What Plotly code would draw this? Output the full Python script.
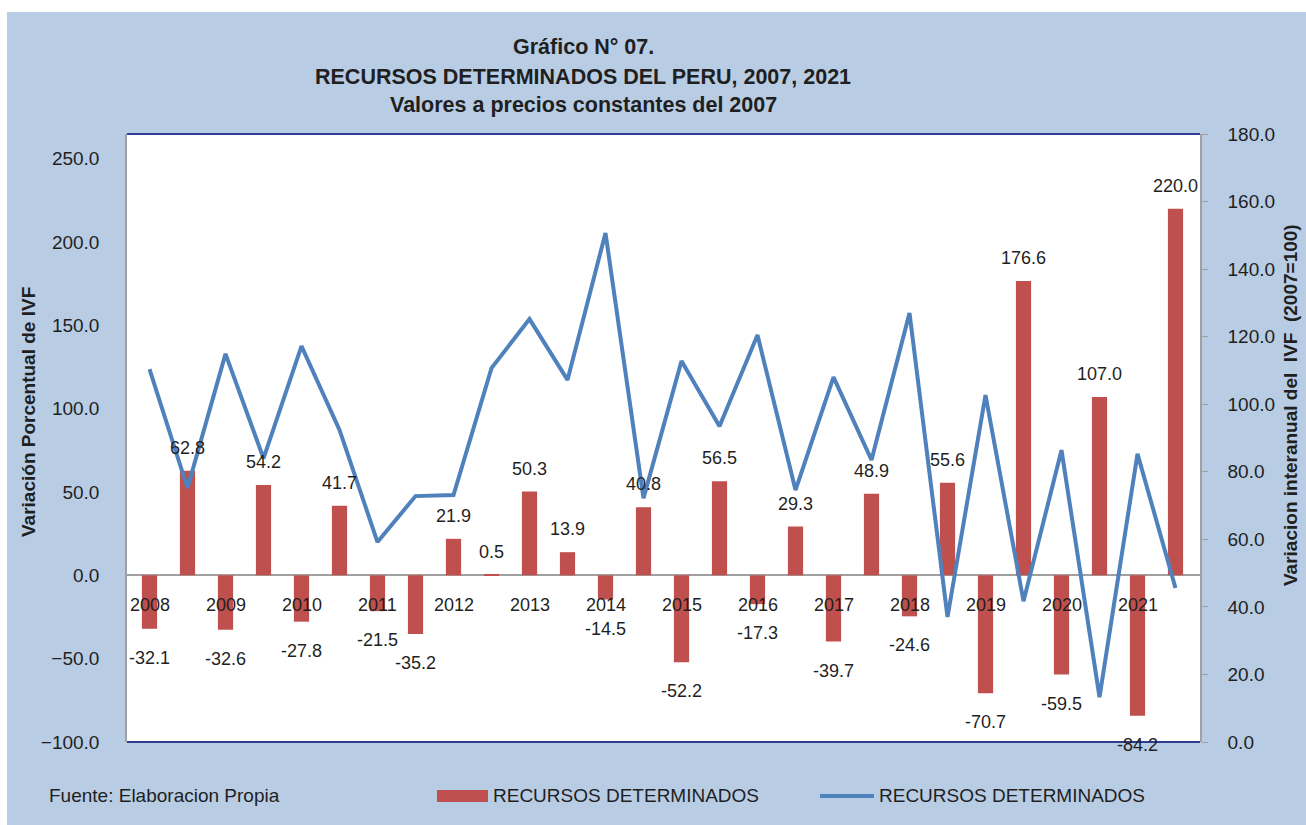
import plotly.graph_objects as go

# etiquetas del eje x (un año cada dos periodos)
anios = ["2008", "2009", "2010", "2011", "2012", "2013", "2014",
         "2015", "2016", "2017", "2018", "2019", "2020", "2021"]
periodos = []
for a in anios:
    periodos += [a + "-I", a + "-II"]

# variacion porcentual del IVF (barras, eje izquierdo)
var_porcentual = [-32.1, 62.8, -32.6, 54.2, -27.8, 41.7, -21.5, -35.2, 21.9, 0.5,
                  50.3, 13.9, -14.5, 40.8, -52.2, 56.5, -17.3, 29.3, -39.7, 48.9,
                  -24.6, 55.6, -70.7, 176.6, -59.5, 107.0, -84.2, 220.0]

# variacion interanual del IVF, 2007=100 (linea, eje derecho)
var_interanual = [110.4, 75.2, 114.9, 84.0, 117.2, 92.4, 59.2, 72.8, 73.1, 110.7,
                  125.2, 107.2, 150.7, 72.2, 112.8, 93.5, 120.5, 74.6, 108.0, 83.5,
                  127.0, 37.0, 102.7, 41.7, 86.4, 13.3, 85.3, 45.6]

serie = "RECURSOS DETERMINADOS"

FUENTE = "Liberation Sans Narrow, Arial Narrow, Liberation Sans, Arial, sans-serif"
AZUL_FONDO = "#b8cce4"
ROJO = "#c0504d"
AZUL = "#4f81bd"
TXT = "#1f1f1f"

W, H = 1306, 825
L, R, T, B = 127, 106, 134, 83   # area de trazado: x 127-1200, y 134-742
pw, ph = W - L - R, H - T - B

def px_x(p):
    return (p - L) / pw

def px_y(p):
    return (H - B - p) / ph

fig = go.Figure()

fig.add_trace(go.Bar(
    x=periodos, y=var_porcentual, name=serie, showlegend=False,
    marker=dict(color=ROJO, line=dict(width=0)),
    yaxis="y",
))

fig.add_trace(go.Scatter(
    x=periodos, y=var_interanual, name=serie, showlegend=False,
    mode="lines", line=dict(color=AZUL, width=4),
    yaxis="y2",
))

# etiquetas de datos de las barras (como en excel, algo separadas del extremo)
for p, v in zip(periodos, var_porcentual):
    fig.add_annotation(x=p, y=v, xref="x", yref="y", text=f"{v:.1f}",
                       showarrow=False, yanchor="middle",
                       yshift=23 if v >= 0 else -29,
                       font=dict(family=FUENTE, size=18, color=TXT))

# años junto al eje cero
for i, a in enumerate(anios):
    fig.add_annotation(x=periodos[2 * i], y=0, xref="x", yref="y", text=a,
                       showarrow=False, yshift=-30,
                       font=dict(family=FUENTE, size=18, color=TXT))

def texto(t, x, y, size, anchor="left", angle=0):
    fig.add_annotation(x=px_x(x), y=px_y(y), xref="paper", yref="paper", text=t,
                       showarrow=False, xanchor=anchor, yanchor="middle", textangle=angle,
                       font=dict(family=FUENTE, size=size, color=TXT))

# titulo
texto("<b>Gráfico N° 07.</b>", 583, 47, 21.5, "center")
texto("<b>RECURSOS DETERMINADOS DEL PERU, 2007, 2021</b>", 583, 77, 21.5, "center")
texto("<b>Valores a precios constantes del 2007</b>", 583, 105, 21.5, "center")

# titulos de ejes
texto("<b>Variación Porcentual de IVF</b>", 28, 412, 19, "center", -90)
texto("<b>Variacion interanual del  IVF  (2007=100)</b>", 1290, 405, 19, "center", -90)

# fuente y leyenda
texto("Fuente: Elaboracion Propia", 47, 795, 19)
fig.add_shape(type="rect", xref="paper", yref="paper", x0=px_x(437), x1=px_x(488),
              y0=px_y(802), y1=px_y(790), fillcolor=ROJO, line_width=0)
texto(serie, 491, 795, 19)
fig.add_shape(type="line", xref="paper", yref="paper", x0=px_x(820), x1=px_x(874),
              y0=px_y(796), y1=px_y(796), line=dict(color=AZUL, width=4))
texto(serie, 877, 795, 19)

# franjas blancas del recorte y bordes superior/inferior
fig.add_shape(type="rect", xref="paper", yref="paper", x0=px_x(-5), x1=px_x(W + 5),
              y0=px_y(12), y1=px_y(-5), fillcolor="white", line_width=0, layer="below")
fig.add_shape(type="rect", xref="paper", yref="paper", x0=px_x(-5), x1=px_x(7),
              y0=px_y(H + 5), y1=px_y(-5), fillcolor="white", line_width=0, layer="below")
for yy in (0, 1):
    fig.add_shape(type="line", xref="paper", yref="paper", x0=0, x1=1, y0=yy, y1=yy,
                  line=dict(color="#2e3d8f", width=2))

fig.update_layout(
    width=W, height=H,
    margin=dict(l=L, r=R, t=T, b=B, autoexpand=False),
    paper_bgcolor=AZUL_FONDO, plot_bgcolor="white",
    font=dict(family=FUENTE, size=18, color=TXT),
    bargap=0.6,
    showlegend=False,
    xaxis=dict(showticklabels=False, showgrid=False, zeroline=False, showline=False,
               ticks="", automargin=False),
    yaxis=dict(range=[-100, 264.8], tickvals=[-100, -50, 0, 50, 100, 150, 200, 250],
               tickformat=".1f", showgrid=False, zeroline=True, zerolinecolor="#a0a0a0",
               zerolinewidth=1.5, showline=True, linecolor="#a0a0a0", linewidth=1.5,
               ticks="", ticklabelstandoff=22, automargin=False,
               tickfont=dict(family=FUENTE, size=19, color=TXT)),
    yaxis2=dict(range=[0, 180], dtick=20, tickformat=".1f", overlaying="y", side="right",
                showgrid=False, zeroline=False, showline=True, linecolor="#a0a0a0",
                linewidth=1.5, ticks="outside", ticklen=6, tickcolor="#a0a0a0",
                ticklabelstandoff=16, automargin=False,
                tickfont=dict(family=FUENTE, size=19, color=TXT)),
)

fig.write_html("out.html", config={"displayModeBar": False},
               post_script="document.body.style.margin='0px';"
                           "document.body.style.overflow='hidden';"
                           "document.body.style.background='" + AZUL_FONDO + "';"
                           "document.documentElement.style.background='" + AZUL_FONDO + "';")
